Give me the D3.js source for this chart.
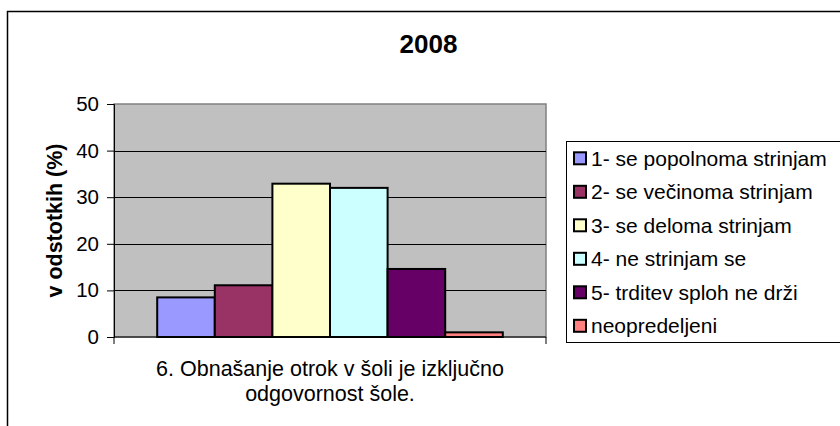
<!DOCTYPE html>
<html><head><meta charset="utf-8">
<script src="https://cdn.jsdelivr.net/npm/d3@7"></script>
<style>html,body{margin:0;padding:0;background:#fff}svg{display:block;font-family:"Liberation Sans",Arial,sans-serif}</style>
</head><body><svg id="c" width="840" height="426"></svg>
<script>
const title = "2008";
const seriesNames = ["1- se popolnoma strinjam","2- se večinoma strinjam","3- se deloma strinjam","4- ne strinjam se","5- trditev sploh ne drži","neopredeljeni"];
const values = [8.5, 11.1, 32.9, 32.0, 14.6, 1.0];
const colors = ["#9999FF","#993366","#FFFFCC","#CCFFFF","#660066","#FF8080"];
const categoryLines = ["6. Obnašanje otrok v šoli je izključno","odgovornost šole."];
const yTicks = [0,10,20,30,40,50];
const yTitle = "v odstotkih (%)";

const svg = d3.select("#c");
const L = 114, R = 546, T = 104, B = 337;

// outer chart border (extends beyond the canvas)
svg.append("rect").attr("x",7.5).attr("y",11.5).attr("width",860).attr("height",440)
  .attr("fill","#fff").attr("stroke","#000").attr("stroke-width",1.5);

const y = d3.scaleLinear().domain([0,50]).range([B,T]);
const xGroup = d3.scaleBand().domain(["c"]).range([L,R]).paddingInner(0).paddingOuter(0);
const x = d3.scaleBand().domain(d3.range(values.length))
  .range([L + 0.75*(R-L)/7.5, R - 0.75*(R-L)/7.5]).padding(0);

svg.append("rect").attr("x",L).attr("y",T).attr("width",R-L).attr("height",B-T)
  .attr("fill","#C0C0C0").attr("stroke","#808080").attr("stroke-width",1.5);

// gridlines
svg.append("g").selectAll("line").data(yTicks.filter(d=>d>0 && d<50)).join("line")
  .attr("x1",L).attr("x2",R).attr("y1",d=>Math.round(y(d))+0.5).attr("y2",d=>Math.round(y(d))+0.5)
  .attr("stroke","#000").attr("stroke-width",1);

// bars
svg.append("g").selectAll("rect").data(values).join("rect")
  .attr("x",(d,i)=>x(i)).attr("y",d=>y(d)).attr("width",x.bandwidth()).attr("height",d=>B-y(d))
  .attr("fill",(d,i)=>colors[i]).attr("stroke","#000").attr("stroke-width",2);

// y axis
const yAxis = svg.append("g").attr("transform",`translate(${L},0)`)
  .call(d3.axisLeft(y).tickValues(yTicks).tickSize(7).tickPadding(8));
yAxis.select(".domain").attr("stroke","#000");
yAxis.selectAll(".tick line").attr("stroke","#000");
yAxis.selectAll("text").attr("font-size",20.5).attr("fill","#000").attr("font-family","Liberation Sans, Arial, sans-serif");

// x axis baseline with end ticks
const xAxis = svg.append("g").attr("transform",`translate(0,${B})`)
  .call(d3.axisBottom(xGroup).tickSize(0).tickFormat(""));
xAxis.select(".domain").attr("stroke","#000").attr("d",`M${L},0H${R}`);
svg.append("g").selectAll("line").data([L,R]).join("line")
  .attr("x1",d=>d).attr("x2",d=>d).attr("y1",B).attr("y2",B+7).attr("stroke","#000");

// category label
svg.append("g").selectAll("text").data(categoryLines).join("text")
  .attr("x",xGroup("c")+xGroup.bandwidth()/2).attr("y",(d,i)=>376+i*24.5)
  .attr("text-anchor","middle").attr("font-size",21.5).text(d=>d);

// title
svg.append("text").attr("x",428.5).attr("y",53).attr("text-anchor","middle")
  .attr("font-size",26).attr("font-weight","bold").text(title);

// y title
svg.append("text").attr("transform",`translate(62,${(T+B)/2}) rotate(-90)`)
  .attr("text-anchor","middle").attr("font-size",21.5).attr("font-weight","bold").text(yTitle);

// legend (box extends past the right edge)
svg.append("rect").attr("x",566.5).attr("y",141.5).attr("width",290).attr("height",201)
  .attr("fill","#fff").attr("stroke","#000").attr("stroke-width",1);
const lg = svg.append("g").selectAll("g").data(seriesNames).join("g")
  .attr("transform",(d,i)=>`translate(0,${158.3 + i*33.5})`);
lg.append("rect").attr("x",574).attr("y",-6).attr("width",12).attr("height",12)
  .attr("fill",(d,i)=>colors[i]).attr("stroke","#000").attr("stroke-width",2);
lg.append("text").attr("x",591).attr("y",7.5).attr("font-size",21).text(d=>d);
</script></body></html>
